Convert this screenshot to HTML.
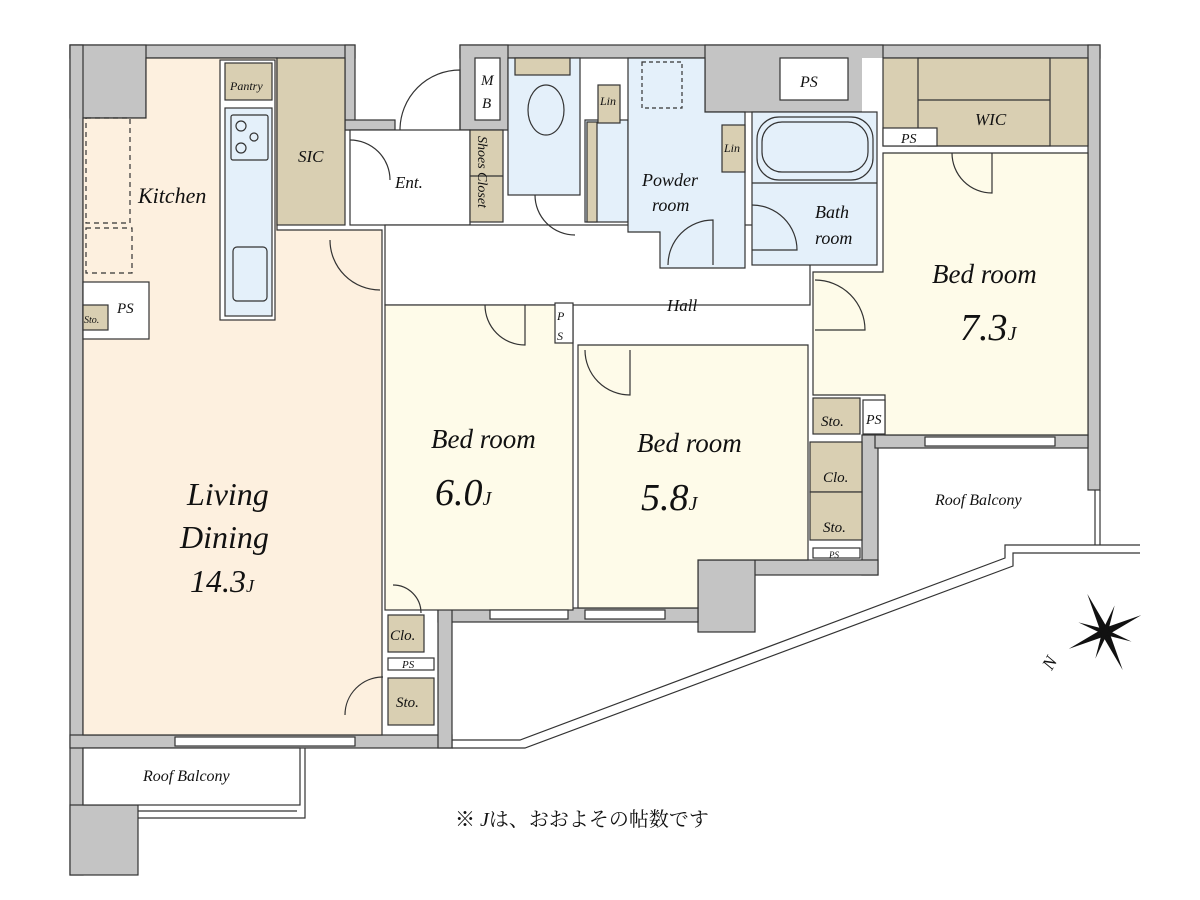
<!DOCTYPE html>
<html><head><meta charset="utf-8"><style>
html,body{margin:0;padding:0;background:#fff;}
svg{display:block}
text{font-family:"Liberation Serif","Noto Serif CJK SC",serif;font-style:italic;fill:#111;}
.jp{font-style:normal;font-family:"Liberation Serif","Noto Serif CJK JP","Noto Sans CJK JP",serif;}
</style></head><body>
<svg width="1200" height="900" viewBox="0 0 1200 900" xmlns="http://www.w3.org/2000/svg">
<g stroke="#333" stroke-width="1.2">
<g fill="#c4c4c4">
<rect x="70" y="45" width="285" height="13"/>
<rect x="70" y="45" width="76" height="73"/>
<rect x="70" y="45" width="13" height="830"/>
<rect x="70" y="805" width="68" height="70"/>
<rect x="70" y="735" width="382" height="13"/>
<rect x="345" y="45" width="10" height="85"/>
<rect x="345" y="120" width="50" height="10"/>
<rect x="460" y="45" width="640" height="13"/>
<rect x="460" y="45" width="48" height="85"/>
<rect x="705" y="45" width="178" height="67"/>
<rect x="1088" y="45" width="12" height="445"/>
<rect x="862" y="435" width="16" height="140"/>
<rect x="875" y="435" width="213" height="13"/>
<rect x="698" y="560" width="180" height="15"/>
<rect x="698" y="560" width="57" height="72"/>
<rect x="438" y="608" width="260" height="14"/>
<rect x="438" y="608" width="14" height="140"/>
</g>
<polygon points="146,58 277,58 277,230 382,230 382,735 83,735 83,118 146,118" fill="#fdf0df"/>
<rect x="350" y="130" width="120" height="95" fill="#fff"/>
<rect x="385" y="225" width="425" height="80" fill="#fff"/>
<rect x="470" y="130" width="33" height="92" fill="#d9cfb2"/>
<line x1="470" y1="176" x2="503" y2="176"/>
<rect x="475" y="58" width="25" height="62" fill="#fff"/>
<rect x="508" y="58" width="72" height="137" fill="#e4f0fa"/>
<rect x="515" y="58" width="55" height="17" fill="#d9cfb2"/>
<ellipse cx="546" cy="110" rx="18" ry="25" fill="#e4f0fa"/>
<rect x="585" y="120" width="43" height="102" fill="#e4f0fa"/>
<rect x="598" y="85" width="22" height="38" fill="#d9cfb2"/>
<rect x="587" y="122" width="10" height="100" fill="#d9cfb2"/>
<polygon points="628,58 705,58 705,112 745,112 745,268 660,268 660,232 628,232" fill="#e4f0fa"/>
<rect x="642" y="62" width="40" height="46" fill="none" stroke-dasharray="4,3"/>
<rect x="722" y="125" width="23" height="47" fill="#d9cfb2"/>
<rect x="780" y="58" width="68" height="42" fill="#fff"/>
<rect x="862" y="58" width="21" height="95" fill="#fff" stroke="none"/>
<rect x="752" y="112" width="125" height="153" fill="#e4f0fa"/>
<rect x="757" y="117" width="116" height="63" rx="22" fill="#e4f0fa"/>
<rect x="762" y="122" width="106" height="50" rx="20" fill="none"/>
<line x1="752" y1="183" x2="877" y2="183"/>
<rect x="883" y="58" width="205" height="88" fill="#d9cfb2"/>
<rect x="918" y="58" width="132" height="88" fill="none"/>
<line x1="918" y1="100" x2="1050" y2="100"/>
<rect x="883" y="128" width="54" height="18" fill="#fff"/>
<polygon points="883,153 1088,153 1088,435 885,435 885,395 813,395 813,272 883,272" fill="#fefbe9"/>
<rect x="813" y="398" width="47" height="36" fill="#d9cfb2"/>
<rect x="863" y="400" width="22" height="34" fill="#fff"/>
<rect x="385" y="305" width="188" height="305" fill="#fefbe9"/>
<polygon points="578,345 808,345 808,560 698,560 698,608 578,608" fill="#fefbe9"/>
<rect x="810" y="442" width="52" height="50" fill="#d9cfb2"/>
<rect x="810" y="492" width="52" height="48" fill="#d9cfb2"/>
<rect x="813" y="548" width="47" height="10" fill="#fff"/>
<rect x="555" y="303" width="18" height="40" fill="#fff"/>
<rect x="388" y="615" width="36" height="37" fill="#d9cfb2"/>
<rect x="388" y="658" width="46" height="12" fill="#fff"/>
<rect x="388" y="678" width="46" height="47" fill="#d9cfb2"/>
<rect x="220" y="60" width="55" height="260" fill="#fff"/>
<rect x="225" y="63" width="47" height="37" fill="#d9cfb2"/>
<rect x="225" y="108" width="47" height="208" fill="#e4f0fa"/>
<rect x="231" y="115" width="37" height="45" rx="2" fill="#e4f0fa"/>
<rect x="233" y="247" width="34" height="54" rx="4" fill="#e4f0fa"/>
<circle cx="241" cy="126" r="5" fill="none"/><circle cx="254" cy="137" r="4" fill="none"/><circle cx="241" cy="148" r="5" fill="none"/>
<rect x="277" y="58" width="68" height="167" fill="#d9cfb2"/>
<rect x="86" y="118" width="44" height="105" fill="none" stroke-dasharray="5,4"/>
<rect x="86" y="228" width="46" height="45" fill="none" stroke-dasharray="5,4"/>
<rect x="83" y="282" width="66" height="57" fill="#fff"/>
<rect x="83" y="305" width="25" height="25" fill="#d9cfb2"/>
<rect x="83" y="748" width="217" height="57" fill="#fff"/>
<polyline points="138,818 305,818 305,748" fill="none"/>
<polyline points="138,811 297,811" fill="none"/>
<polyline points="452,748 525,748 1013,566 1013,553 1140,553" fill="none"/>
<polyline points="452,740 520,740 1005,558 1005,545 1140,545" fill="none"/>
<line x1="1095" y1="490" x2="1095" y2="545"/>
<line x1="1100" y1="490" x2="1100" y2="545"/>
<g fill="none">
<path d="M400,130 A60,60 0 0 1 460,70 L460,130"/>
<path d="M330,240 A50,50 0 0 0 380,290"/>
<path d="M350,140 A40,40 0 0 1 390,180"/>
<path d="M485,305 A40,40 0 0 0 525,345 L525,305"/>
<path d="M585,350 A45,45 0 0 0 630,395 L630,350"/>
<path d="M815,280 A50,50 0 0 1 865,330 L815,330"/>
<path d="M535,195 A40,40 0 0 0 575,235"/>
<path d="M668,265 A45,45 0 0 1 713,220 L713,265"/>
<path d="M752,205 A45,45 0 0 1 797,250 L752,250"/>
<path d="M952,153 A40,40 0 0 0 992,193 L992,153"/>
<path d="M345,715 A38,38 0 0 1 383,677"/>
<path d="M393,585 A28,28 0 0 1 421,613"/>
</g>
<g fill="#fff">
<rect x="175" y="737" width="180" height="9"/>
<rect x="490" y="610" width="78" height="9"/>
<rect x="585" y="610" width="80" height="9"/>
<rect x="925" y="437" width="130" height="9"/>
</g>
</g>
<g transform="translate(1105,632) rotate(-25)" fill="#111">
<polygon points="0,-42 4,0 0,42 -4,0"/>
<polygon points="-40,0 0,-4 40,0 0,4"/>
<polygon points="-20,-20 2,-2 20,20 -2,2"/>
<polygon points="20,-20 2,2 -20,20 -2,-2"/>
</g>
<text x="1043" y="668" font-size="18" transform="rotate(-60 1050 662)">N</text>
<g font-size="14">
<text x="230" y="90" font-size="12">Pantry</text>
<text x="298" y="162" font-size="17">SIC</text>
<text x="395" y="188" font-size="17">Ent.</text>
<text x="138" y="203" font-size="22">Kitchen</text>
<text x="117" y="313" font-size="15">PS</text>
<text x="84" y="323" font-size="10">Sto.</text>
<text x="481" y="85" font-size="15">M</text>
<text x="482" y="108" font-size="15">B</text>
<text x="478" y="136" font-size="14" transform="rotate(90 478 136)">Shoes Closet</text>
<text x="600" y="105" font-size="12">Lin</text>
<text x="724" y="152" font-size="12">Lin</text>
<text x="642" y="186" font-size="18">Powder</text>
<text x="652" y="211" font-size="18">room</text>
<text x="815" y="218" font-size="18">Bath</text>
<text x="815" y="244" font-size="18">room</text>
<text x="800" y="87" font-size="16">PS</text>
<text x="901" y="143" font-size="14">PS</text>
<text x="975" y="125" font-size="17">WIC</text>
<text x="667" y="311" font-size="17">Hall</text>
<text x="557" y="320" font-size="12">P</text>
<text x="557" y="340" font-size="12">S</text>
<text x="932" y="283" font-size="27">Bed room</text>
<text x="960" y="340" font-size="38">7.3<tspan font-size="20">J</tspan></text>
<text x="431" y="448" font-size="27">Bed room</text>
<text x="435" y="505" font-size="38">6.0<tspan font-size="20">J</tspan></text>
<text x="637" y="452" font-size="27">Bed room</text>
<text x="641" y="510" font-size="38">5.8<tspan font-size="20">J</tspan></text>
<text x="187" y="505" font-size="32">Living</text>
<text x="180" y="548" font-size="32">Dining</text>
<text x="190" y="592" font-size="32">14.3<tspan font-size="18">J</tspan></text>
<text x="821" y="426" font-size="15">Sto.</text>
<text x="866" y="424" font-size="14">PS</text>
<text x="823" y="482" font-size="15">Clo.</text>
<text x="823" y="532" font-size="15">Sto.</text>
<text x="829" y="558" font-size="9">PS</text>
<text x="935" y="505" font-size="16">Roof Balcony</text>
<text x="390" y="640" font-size="15">Clo.</text>
<text x="402" y="668" font-size="11">PS</text>
<text x="396" y="707" font-size="15">Sto.</text>
<text x="143" y="781" font-size="16">Roof Balcony</text>
</g>
<text x="455" y="826" font-size="20" class="jp">※ <tspan font-style="italic">J</tspan>は、おおよその帖数です</text>
</svg>
</body></html>
